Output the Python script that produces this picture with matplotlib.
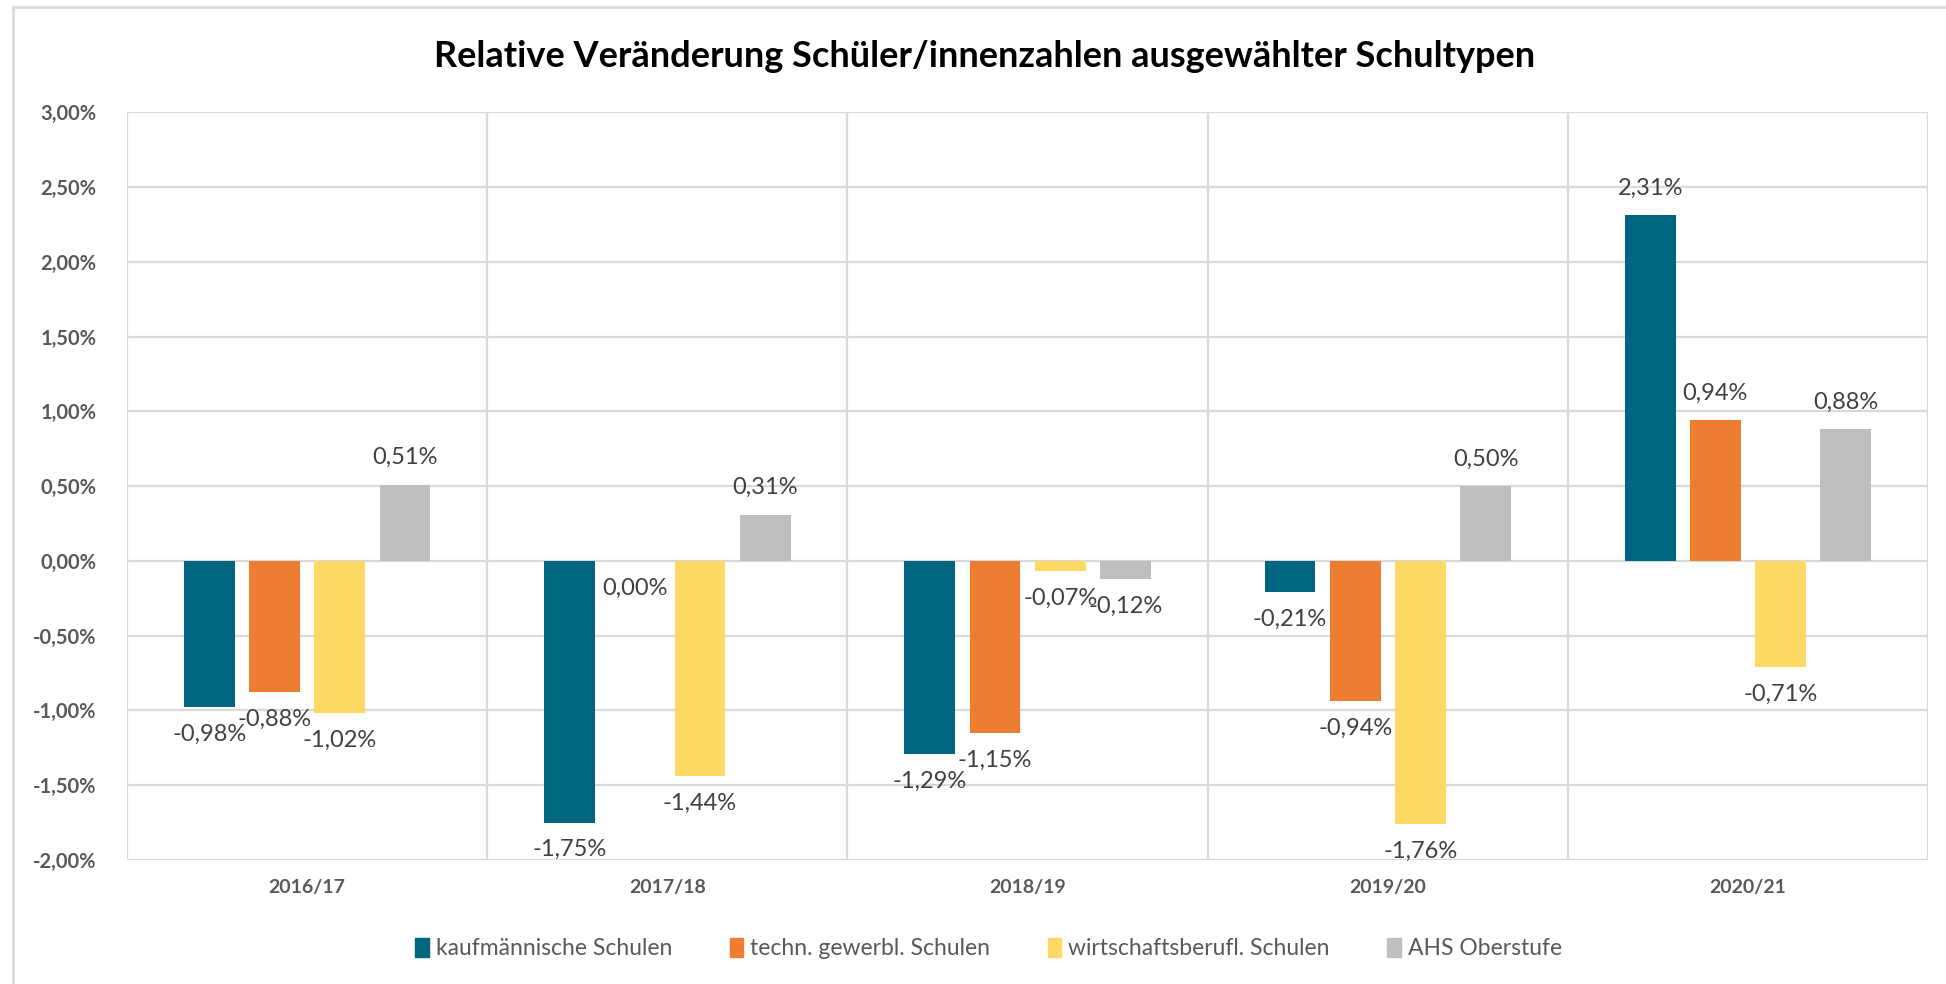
import numpy as np
import matplotlib.pyplot as plt
from matplotlib.patches import Patch
from matplotlib.lines import Line2D

# data (percent change per school year)
years = ["2016/17", "2017/18", "2018/19", "2019/20", "2020/21"]
series_names = ["kaufmännische Schulen", "techn. gewerbl. Schulen",
                "wirtschaftsberufl. Schulen", "AHS Oberstufe"]
kaufm = [-0.98, -1.75, -1.29, -0.21, 2.31]
techn = [-0.88, 0.00, -1.15, -0.94, 0.94]
wirtsch = [-1.02, -1.44, -0.07, -1.76, -0.71]
ahs = [0.51, 0.31, -0.12, 0.50, 0.88]
yticks = [-2.0, -1.5, -1.0, -0.5, 0.0, 0.5, 1.0, 1.5, 2.0, 2.5, 3.0]

colors = ["#00657F", "#ED7D31", "#FFD966", "#BFBFBF"]
plt.rcParams['font.family'] = ['Lato', 'DejaVu Sans']


def fmt(v):
    return f"{v:.2f}".replace(".", ",") + "%"


fig = plt.figure(figsize=(19.46, 9.84), dpi=100)
ax = fig.add_axes([0.0653, 0.126, 0.9255, 0.760])

x = np.arange(len(years))
step, width = 0.181, 0.141
for j, vals in enumerate([kaufm, techn, wirtsch, ahs]):
    pos = x + (j - 1.5) * step
    ax.bar(pos, vals, width, color=colors[j], zorder=3)
    for p, v in zip(pos, vals):
        if v > 0:
            ax.annotate(fmt(v), (p, v), xytext=(0, 12), textcoords='offset points',
                        ha='center', va='bottom', fontsize=17, color='#404040')
        else:
            ax.annotate(fmt(v), (p, v), xytext=(0, -12), textcoords='offset points',
                        ha='center', va='top', fontsize=17, color='#404040')

ax.set_xlim(-0.5, len(years) - 0.5)
ax.set_ylim(-2.0, 3.0)
ax.set_yticks(yticks)
ax.set_yticklabels([fmt(t) for t in yticks], fontsize=14.5, fontweight='bold', color='#595959')
ax.set_xticks(x)
ax.set_xticklabels(years, fontsize=14, fontweight='bold', color='#595959')
ax.set_xticks(np.arange(-0.5, len(years)), minor=True)
ax.tick_params(which='both', length=0)
ax.tick_params(axis='y', pad=22)
ax.tick_params(axis='x', pad=14)
ax.grid(axis='y', which='major', color='#D9D9D9', lw=1.6, zorder=0)
ax.grid(axis='x', which='minor', color='#D9D9D9', lw=1.6, zorder=0)
ax.grid(axis='x', which='major', visible=False)
for s in ax.spines.values():
    s.set_visible(False)

fig.text(0.506, 0.943, "Relative Veränderung Schüler/innenzahlen ausgewählter Schultypen",
         ha='center', va='center', fontsize=26, fontweight='bold', color='black')

handles = [Patch(color=c) for c in colors]
fig.legend(handles, series_names, loc='center', bbox_to_anchor=(0.508, 0.036), ncol=4,
           frameon=False, fontsize=16.5, labelcolor='#595959', handlelength=0.6,
           handleheight=0.9, handletextpad=0.3, columnspacing=2.5)

# outer chart frame
fig.add_artist(Line2D([0.0067, 0.0067], [0.0, 0.993], transform=fig.transFigure,
                      color='#D9D9D9', lw=2))
fig.add_artist(Line2D([0.0067, 1.0], [0.993, 0.993], transform=fig.transFigure,
                      color='#D9D9D9', lw=2))

fig.savefig("out.png", dpi=100)
